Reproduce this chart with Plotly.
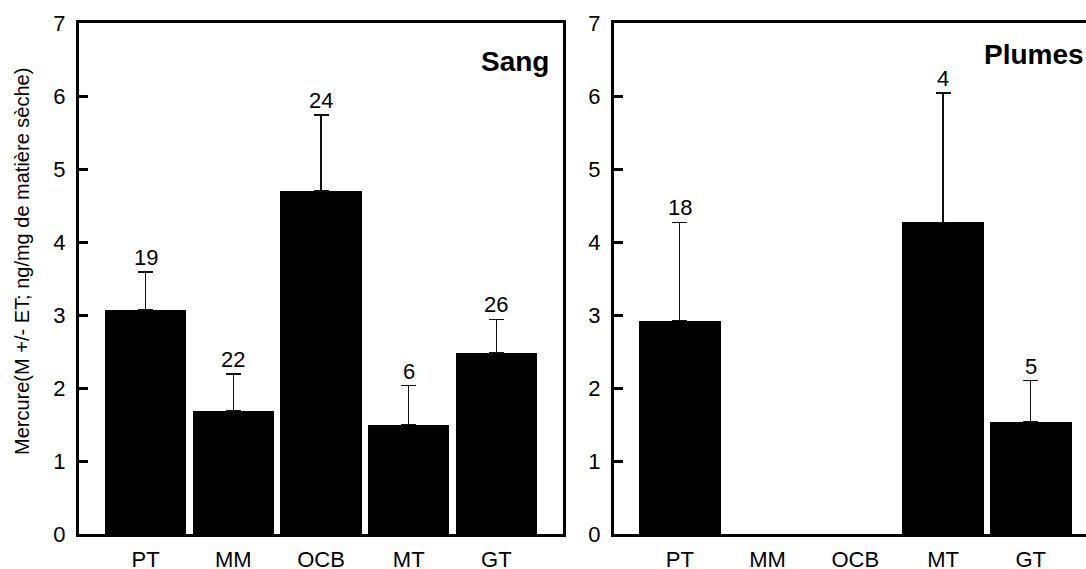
import plotly.graph_objects as go

categories = ["PT", "MM", "OCB", "MT", "GT"]
sang_mean = [3.07, 1.69, 4.70, 1.50, 2.48]
sang_err = [0.52, 0.50, 1.04, 0.53, 0.46]
sang_n = [19, 22, 24, 6, 26]
plumes_mean = [2.92, None, None, 4.27, 1.54]
plumes_err = [1.35, None, None, 1.77, 0.56]
plumes_n = [18, None, None, 4, 5]
y_ticks = [0, 1, 2, 3, 4, 5, 6, 7]

W, H = 1086, 569
FONT = "Arial, Liberation Sans, sans-serif"

fig = go.Figure()

def add_panel(means, errs, xa, ya):
    fig.add_trace(go.Bar(
        x=categories, y=means, xaxis=xa, yaxis=ya, width=0.93,
        marker=dict(color="black", line=dict(width=0)),
        error_y=dict(type="data", array=[e if e is not None else 0 for e in errs],
                     arrayminus=[0] * len(errs), symmetric=False,
                     color="#111111", thickness=1.3, width=7.5),
        showlegend=False, hoverinfo="skip"))

add_panel(sang_mean, sang_err, "x", "y")
add_panel(plumes_mean, plumes_err, "x2", "y2")

annotations = []
for means, errs, ns, xr, yr in [(sang_mean, sang_err, sang_n, "x", "y"),
                                 (plumes_mean, plumes_err, plumes_n, "x2", "y2")]:
    for c, m, e, n in zip(categories, means, errs, ns):
        if m is None:
            continue
        annotations.append(dict(x=c, y=m + e, xref=xr, yref=yr, text=str(n),
                                showarrow=False, yanchor="bottom", yshift=0,
                                font=dict(family=FONT, size=22, color="black")))

annotations.append(dict(x=551 / W, y=1 - 61 / H, xref="paper", yref="paper",
                        text="<b>Sang</b>", showarrow=False, xanchor="right",
                        yanchor="middle", font=dict(family=FONT, size=28, color="black")))
annotations.append(dict(x=1086 / W, y=1 - 55 / H, xref="paper", yref="paper",
                        text="<b>Plumes</b>", showarrow=False, xanchor="right",
                        yanchor="middle", font=dict(family=FONT, size=28, color="black")))
annotations.append(dict(x=22 / W, y=1 - 262 / H, xref="paper", yref="paper",
                        text="Mercure(M +/- ET; ng/mg de matière sèche)", textangle=-90,
                        showarrow=False, xanchor="center", yanchor="middle",
                        font=dict(family=FONT, size=20, color="black")))

ydom = [(H - 534) / H, (H - 23) / H]
yaxis_common = dict(range=[0, 7], tickvals=y_ticks, ticks="inside", ticklen=9,
                    tickwidth=3, tickcolor="black", showline=True, linewidth=3,
                    linecolor="black", showgrid=False, zeroline=False, automargin=False,
                    tickfont=dict(family=FONT, size=22, color="black"),
                    ticklabelstandoff=6, domain=ydom)
xaxis_common = dict(ticks="", showline=True, linewidth=3, linecolor="black",
                    mirror=True, showgrid=False, zeroline=False, automargin=False,
                    tickfont=dict(family=FONT, size=22, color="black"),
                    ticklabelstandoff=4)

fig.update_layout(
    template="none",
    width=W, height=H, margin=dict(l=0, r=0, t=0, b=0, autoexpand=False),
    paper_bgcolor="white", plot_bgcolor="white",
    bargap=0,
    xaxis=dict(**xaxis_common, domain=[79 / W, 563 / W], range=[-0.76, 4.76], anchor="y"),
    xaxis2=dict(**xaxis_common, domain=[614 / W, 1.0], range=[-0.75, 4.63], anchor="y2"),
    yaxis=dict(**yaxis_common, mirror=True, anchor="x"),
    yaxis2=dict(**yaxis_common, mirror=False, anchor="x2"),
    annotations=annotations,
)

fig.write_html("out.html", config={"displayModeBar": False},
               post_script="document.body.style.margin='0';document.body.style.overflow='hidden';")
